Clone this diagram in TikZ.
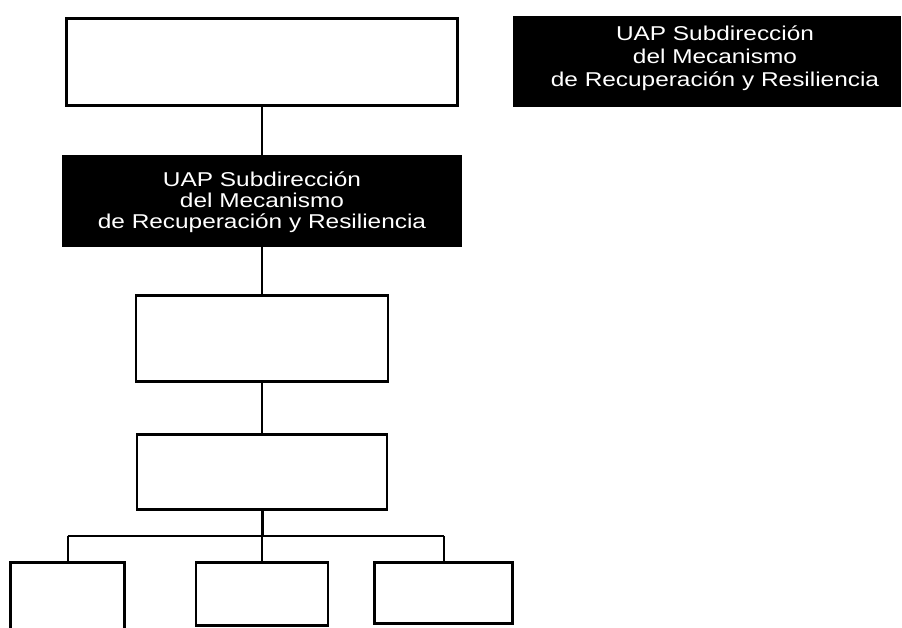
\documentclass[tikz,border=0pt]{standalone}
\usepackage{fontspec}
\setmainfont{Liberation Sans}
\newfontfamily\uapfont[FakeStretch=1.22]{Liberation Sans}

\begin{document}
\begin{tikzpicture}[x=1pt, y=-1pt,
    box/.style={draw, line width=2.8pt, fill=white, inner sep=0pt},
    blackbox/.style={fill=black, text=white, inner sep=0pt},
    link/.style={line width=2pt}]
\useasboundingbox (0,0) rectangle (902,628);
\clip (0,0) rectangle (902,628);
% Draw boxes
\node[box, minimum width=391pt, minimum height=87pt] (jefatura) at (262,62) {};
\node[blackbox, minimum width=400pt, minimum height=92pt,
      font=\uapfont\fontsize{20}{20.9}\selectfont] (uap) at (262,201)
      {\begin{tabular}{c}UAP Subdirección\\del Mecanismo\\de Recuperación y Resiliencia\\[-4pt]\end{tabular}};
\node[blackbox, minimum width=388pt, minimum height=91pt,
      font=\uapfont\fontsize{20}{23.3}\selectfont] (leyenda) at (707,61.5)
      {\begin{tabular}{@{\hspace{16pt}}c@{}}UAP Subdirección\\del Mecanismo\\de Recuperación y Resiliencia\\[5pt]\end{tabular}};
\node[box, minimum width=252pt, minimum height=86pt] (area) at (262,338.5) {};
\node[box, minimum width=250pt, minimum height=75pt] (servicio) at (262,472) {};
\node[box, minimum width=114pt, minimum height=77pt] (secA) at (67.5,601) {};
\node[box, minimum width=132pt, minimum height=63pt] (secB) at (262,594) {};
\node[box, minimum width=138pt, minimum height=61pt] (secC) at (443.5,593) {};
% Draw links
\coordinate (bus) at (262,536);
\draw[link] (jefatura.south) -- (uap.north);
\draw[link] (uap.south) -- (area.north);
\draw[link] (area.south) -- (servicio.north);
\draw[line width=3pt] (servicio.south) -- (bus);
\draw[link] (secA.north |- bus) -- (secC.north |- bus);
\foreach \s in {secA,secB,secC}
    \draw[link] (\s.north |- bus) -- (\s.north);
\end{tikzpicture}
\end{document}
